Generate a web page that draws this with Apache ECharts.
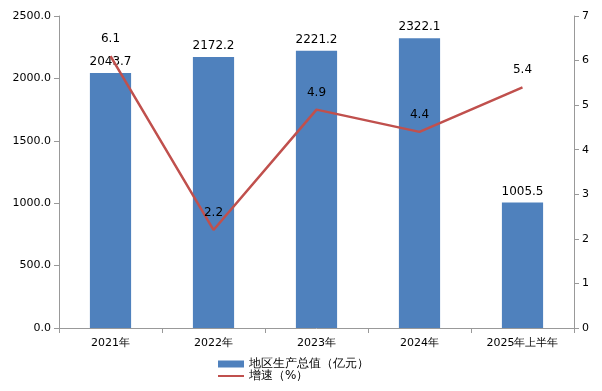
<!DOCTYPE html>
<html><head><meta charset="utf-8">
<script src="https://cdn.jsdelivr.net/npm/echarts@6/dist/echarts.min.js"></script>
<style>html,body{margin:0;padding:0;background:#fff}#c{width:602px;height:391px}</style>
</head><body><div id="c"></div>
<script>
const categories = ['2021年','2022年','2023年','2024年','2025年上半年'];
const gdpValues = [2043.7, 2172.2, 2221.2, 2322.1, 1005.5];
const growthValues = [6.1, 2.2, 4.9, 4.4, 5.4];
const leftTicks = {min:0, max:2500, interval:500};
const rightTicks = {min:0, max:7, interval:1};

const font = 'DejaVu Sans, sans-serif';
const chart = echarts.init(document.getElementById('c'), null, {renderer:'canvas'});
chart.setOption({
  animation:false,
  textStyle:{fontFamily:font},
  grid:{left:59, right:28, top:16, bottom:63, containLabel:false},
  legend:{
    orient:'vertical', left:217, top:358, padding:0, itemGap:0, itemWidth:26, itemHeight:7,
    textStyle:{fontSize:12, color:'#000', fontFamily:font},
    data:[{name:'地区生产总值（亿元）', icon:'rect'},{name:'增速（%）', itemStyle:{opacity:0}}]
  },
  xAxis:{type:'category', data:categories,
    axisLine:{lineStyle:{color:'#999'}},
    axisTick:{show:true, alignWithLabel:false, lineStyle:{color:'#999'}},
    axisLabel:{color:'#000', fontSize:11, fontFamily:font, margin:10}},
  yAxis:[
    {type:'value', min:leftTicks.min, max:leftTicks.max, interval:leftTicks.interval,
     axisLine:{show:true, lineStyle:{color:'#999'}}, axisTick:{show:true, lineStyle:{color:'#999'}},
     splitLine:{show:false},
     axisLabel:{color:'#000', fontSize:11, fontFamily:font, formatter:v=>v.toFixed(1)}},
    {type:'value', min:rightTicks.min, max:rightTicks.max, interval:rightTicks.interval,
     axisLine:{show:true, lineStyle:{color:'#999'}}, axisTick:{show:true, lineStyle:{color:'#999'}},
     splitLine:{show:false},
     axisLabel:{color:'#000', fontSize:11, fontFamily:font}}
  ],
  series:[
    {name:'地区生产总值（亿元）', type:'bar', data:gdpValues, barWidth:'40%',
     itemStyle:{color:'#4F81BD'},
     label:{show:true, position:'top', distance:5, color:'#000', fontSize:12, fontFamily:font, formatter:p=>p.value.toFixed(1)}},
    {name:'增速（%）', type:'line', yAxisIndex:1, data:growthValues, symbol:'circle', symbolSize:0, showSymbol:true,
     lineStyle:{color:'#C0504D', width:2.5}, itemStyle:{color:'#C0504D'},
     label:{show:true, position:'top', distance:11, color:'#000', fontSize:12, fontFamily:font, formatter:p=>p.value.toFixed(1)}}
  ]
});
</script></body></html>
